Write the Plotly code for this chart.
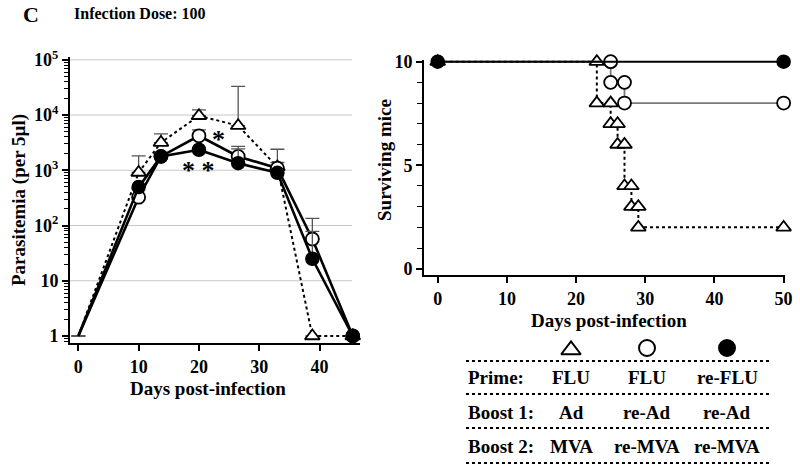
import plotly.graph_objects as go

# ---------------- data ----------------
days_para = [0, 10, 13.7, 20, 26.5, 33, 38.8, 45.5]
tri_para = [1, 910, 3170, 9700, 6400, 1150, 1, 1]
tri_err = [0, 910, 1390, 2700, 26600, 1250, 0, 0]
open_para = [1, 325, 1780, 4200, 1780, 1090, 57, 1]
open_err = [0, 0, 0, 1200, 920, 290, 78, 0]
fill_para = [1, 495, 1780, 2350, 1340, 900, 25, 1]
fill_err = [0, 0, 0, 0, 1100, 0, 53, 0]

tri_surv_days = [0, 23, 23, 25, 25, 26, 26, 27, 27, 28, 28, 29, 29, 50]
tri_surv = [10, 10, 8, 8, 7, 7, 6, 6, 4, 4, 3, 3, 2, 2]
open_surv_days = [0, 25, 25, 27, 27, 50]
open_surv = [10, 10, 9, 9, 8, 8]
fill_surv_days = [0, 50]
fill_surv = [10, 10]

para_yticks = [1, 10, 100, 1000, 10000, 100000]
para_yticktext = ["1", "10", "10<sup>2</sup>", "10<sup>3</sup>", "10<sup>4</sup>", "10<sup>5</sup>"]
para_xticks = [0, 10, 20, 30, 40]
surv_xticks = [0, 10, 20, 30, 40, 50]
surv_yticks = [0, 5, 10]

table_rows = ["Prime:", "Boost 1:", "Boost 2:"]
table_cols = [["FLU", "Ad", "MVA"], ["FLU", "re-Ad", "re-MVA"], ["re-FLU", "re-Ad", "re-MVA"]]

FONT = "Liberation Serif"
W, H = 800, 468

def px(x):
    return x / W

def py(y):
    return 1 - y / H

fig = go.Figure()

msize_l = [0] + [13] * (len(days_para) - 1)
tsize_l = [0] + [13] * (len(days_para) - 1)
errstyle = dict(color="#555555", thickness=1.3, width=7)

# Left panel: parasitemia
fig.add_trace(go.Scatter(
    x=days_para, y=tri_para, mode="lines+markers",
    line=dict(color="black", width=2, dash="dot"),
    marker=dict(symbol="triangle-up", size=tsize_l, color="white", opacity=1,
                line=dict(color="black", width=1.8)),
    error_y=dict(type="data", symmetric=False, array=tri_err, arrayminus=[0] * len(tri_err), **errstyle),
    xaxis="x", yaxis="y", cliponaxis=False, showlegend=False))
fig.add_trace(go.Scatter(
    x=days_para, y=open_para, mode="lines+markers",
    line=dict(color="black", width=2.6),
    marker=dict(symbol="circle", size=msize_l, color="white", opacity=1,
                line=dict(color="black", width=1.8)),
    error_y=dict(type="data", symmetric=False, array=open_err, arrayminus=[0] * len(open_err), **errstyle),
    xaxis="x", yaxis="y", cliponaxis=False, showlegend=False))
fig.add_trace(go.Scatter(
    x=days_para, y=fill_para, mode="lines+markers",
    line=dict(color="black", width=2.6),
    marker=dict(symbol="circle", size=msize_l, color="black", opacity=1,
                line=dict(color="black", width=1.5)),
    error_y=dict(type="data", symmetric=False, array=fill_err, arrayminus=[0] * len(fill_err), **errstyle),
    xaxis="x", yaxis="y", cliponaxis=False, showlegend=False))

# Right panel: survival
fig.add_trace(go.Scatter(
    x=tri_surv_days, y=tri_surv, mode="lines+markers",
    line=dict(color="black", width=2, dash="dot"),
    marker=dict(symbol="triangle-up", size=13, color="white", opacity=1, line=dict(color="black", width=1.8)),
    xaxis="x2", yaxis="y2", cliponaxis=False, showlegend=False))
fig.add_trace(go.Scatter(
    x=open_surv_days, y=open_surv, mode="lines+markers",
    line=dict(color="#7a7a7a", width=1.8),
    marker=dict(symbol="circle", size=[0, 13, 13, 13, 13, 13], color="white", opacity=1,
                line=dict(color="black", width=1.8)),
    xaxis="x2", yaxis="y2", cliponaxis=False, showlegend=False))
fig.add_trace(go.Scatter(
    x=fill_surv_days, y=fill_surv, mode="lines+markers",
    line=dict(color="black", width=2),
    marker=dict(symbol="circle", size=13, color="black", opacity=1, line=dict(color="black", width=1.5)),
    xaxis="x2", yaxis="y2", cliponaxis=False, showlegend=False))

# Table legend symbols (pixel overlay axis)
col_x = [571, 647, 727]
fig.add_trace(go.Scatter(
    x=col_x, y=[350, 348, 348], mode="markers",
    marker=dict(symbol=["triangle-up", "circle", "circle"], size=[17, 16, 16], opacity=1,
                color=["white", "white", "black"], line=dict(color="black", width=2)),
    xaxis="x3", yaxis="y3", showlegend=False, hoverinfo="skip", cliponaxis=False))

tickfont = dict(family=FONT, size=18, color="black", weight="bold")
common = dict(automargin=False, showline=True, linewidth=2, linecolor="black",
              showgrid=False, zeroline=False, tickfont=tickfont,
              ticks="outside", ticklen=6, tickwidth=1.5, tickcolor="black")

fig.update_layout(
    template="none",
    width=W, height=H, margin=dict(l=0, r=0, t=0, b=0, pad=0, autoexpand=False),
    paper_bgcolor="white", plot_bgcolor="rgba(0,0,0,0)",
    font=dict(family=FONT, color="black"),
    xaxis=dict(domain=[px(70), px(360)], range=[-1.38, 46.7], tickmode="array", tickvals=para_xticks,
               anchor="y", **common),
    yaxis=dict(domain=[py(343), py(57)], type="log", range=[-0.127, 5.05],
               tickmode="array", tickvals=para_yticks, ticktext=para_yticktext, anchor="x",
               minor=dict(ticks="outside", ticklen=4, tickwidth=1, tickcolor="black", dtick="D1", showgrid=False),
               **common),
    xaxis2=dict(domain=[px(424), px(785)], range=[-1.98, 50.2], tickmode="array", tickvals=surv_xticks,
                anchor="y2", **common),
    yaxis2=dict(domain=[py(275), py(60)], range=[-0.3, 10.08], tickmode="array", tickvals=surv_yticks,
                anchor="x2",
                minor=dict(ticks="outside", ticklen=5, tickwidth=1, tickcolor="black", dtick=1, showgrid=False),
                **common),
    xaxis3=dict(domain=[0, 1], range=[0, W], visible=False, fixedrange=True, anchor="y3", automargin=False),
    yaxis3=dict(domain=[0, 1], range=[H, 0], visible=False, fixedrange=True, anchor="x3", automargin=False),
)

# gridlines on left panel
shapes = []
for v in [10, 100, 1000, 10000, 100000]:
    shapes.append(dict(type="line", xref="x", yref="y", x0=-1.38, x1=45.4, y0=v, y1=v,
                       line=dict(color="#c8c8c8", width=1), layer="below"))
# table dotted rules
for yy in [361, 394, 428, 463]:
    shapes.append(dict(type="line", xref="paper", yref="paper", x0=px(466), x1=px(772), y0=py(yy), y1=py(yy),
                       line=dict(color="black", width=1.8, dash="dot")))
fig.update_layout(shapes=shapes)

ann = []
bold = dict(family=FONT, color="black", weight="bold")

def add_text(x, y, text, size, xanchor="center", angle=0, ref="paper"):
    if ref == "paper":
        ann.append(dict(x=px(x), y=py(y), xref="paper", yref="paper", text=text, showarrow=False,
                        xanchor=xanchor, yanchor="middle", textangle=angle, font=dict(size=size, **bold)))
    else:
        ann.append(dict(x=x, y=y, xref="x", yref="y", text=text, showarrow=False,
                        xanchor=xanchor, yanchor="middle", textangle=angle, font=dict(size=size, **bold)))

add_text(31, 15, "C", 22)
add_text(72, 13, "Infection Dose: 100", 16, xanchor="left")
add_text(208, 388, "Days post-infection", 19)
add_text(609, 320, "Days post-infection", 19)
add_text(19, 200, "Parasitemia (per 5\u00b5l)", 19, angle=-90)
add_text(384, 160, "Surviving mice", 19, angle=-90)
# significance asterisks
add_text(23.2, 3.56, "*", 26, ref="data")
add_text(20.0, 3.0, "* *", 26, ref="data")
# table text
row_y = [377, 412, 446]
for r, lab in enumerate(table_rows):
    add_text(466, row_y[r], lab, 19, xanchor="left")
    for c in range(3):
        add_text(col_x[c], row_y[r], table_cols[c][r], 19)
fig.update_layout(annotations=ann)

fig.write_html("out.html", config={"displayModeBar": False},
               post_script="document.body.style.margin='0px';")
